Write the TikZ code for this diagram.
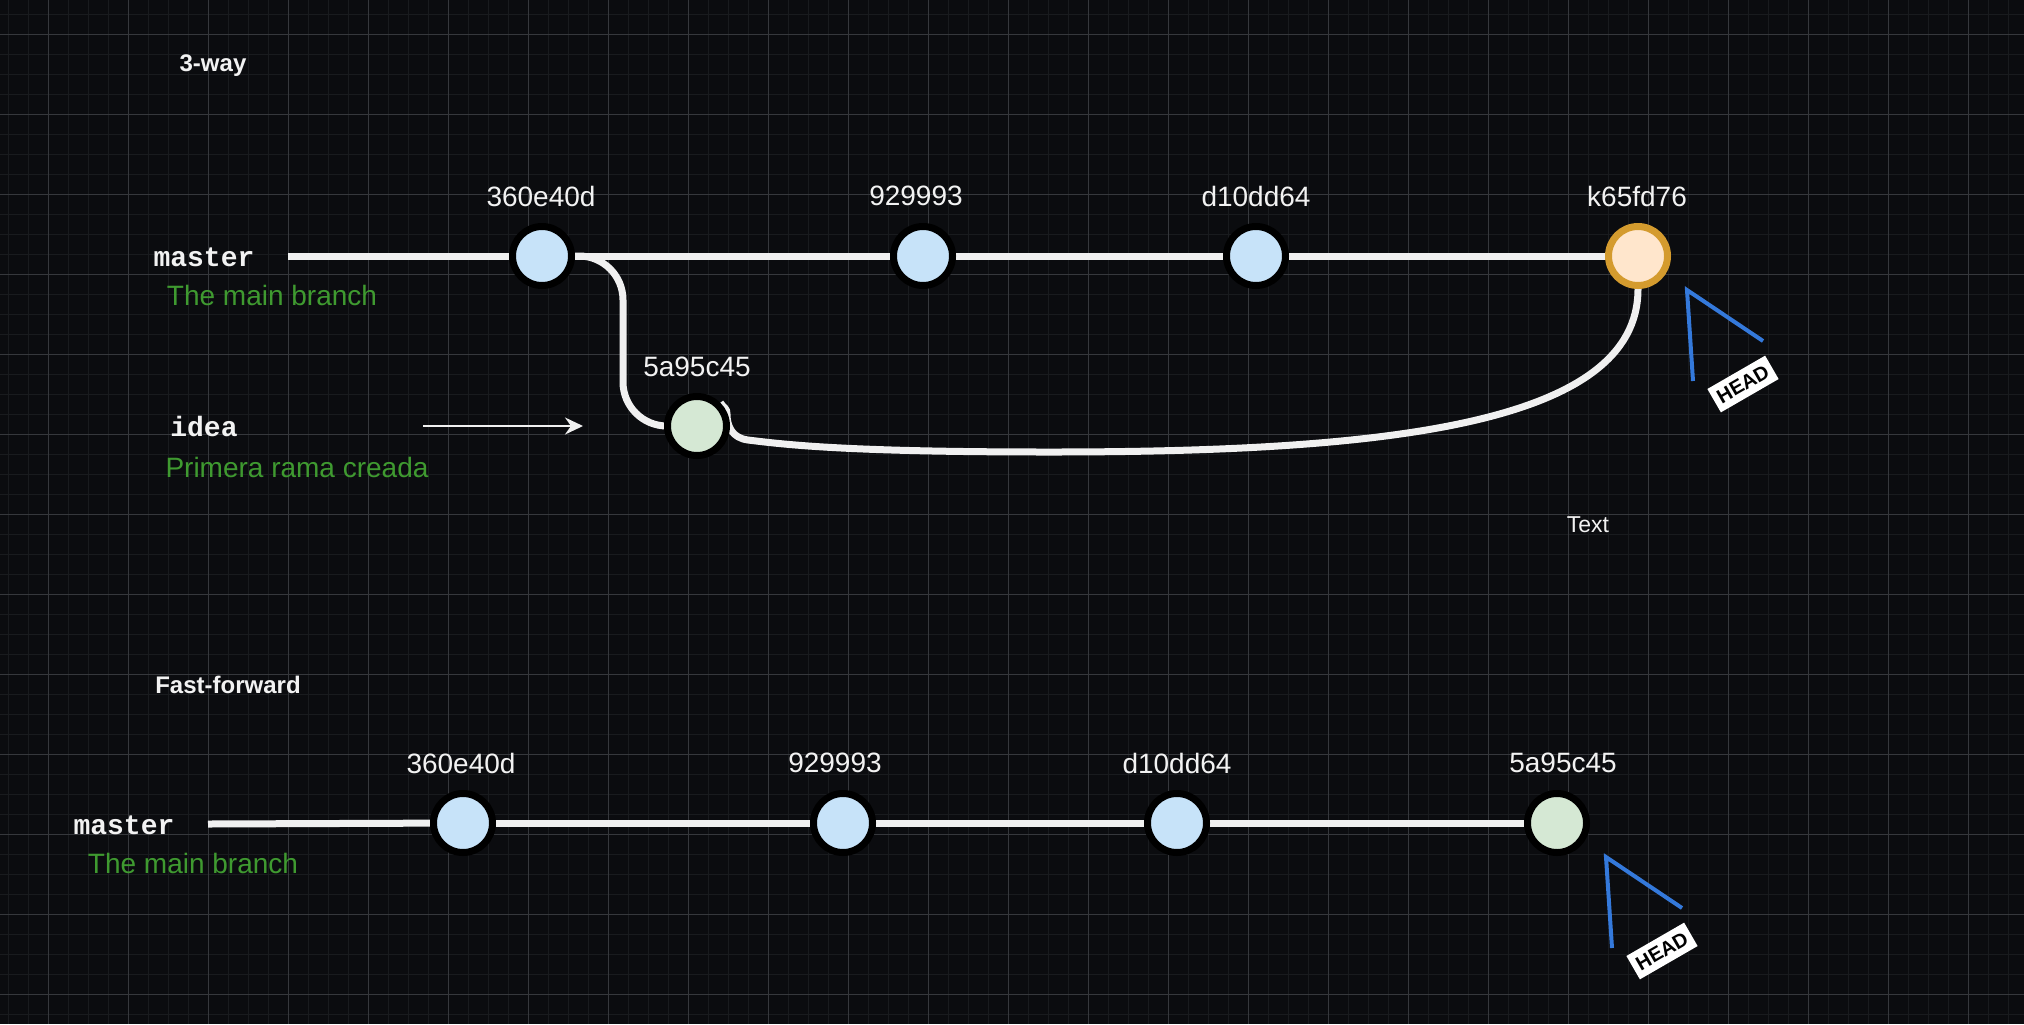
\documentclass[tikz,border=0pt]{standalone}
\usepackage{fontspec}
\setmainfont{Liberation Sans}
\newfontfamily\branchfont{Liberation Mono}
\usetikzlibrary{arrows.meta}

\definecolor{canvasbg}{HTML}{0B0C0F}
\definecolor{gridminor}{HTML}{191B1E}
\definecolor{gridmajor}{HTML}{36383C}
\definecolor{linewhite}{HTML}{F0F0F0}
\definecolor{labelwhite}{HTML}{F2F2F2}
\definecolor{commitblue}{HTML}{C7E3F9}
\definecolor{commitgreen}{HTML}{D5E8D4}
\definecolor{headfill}{HTML}{FFE6CC}
\definecolor{headring}{HTML}{D49B2E}
\definecolor{descgreen}{HTML}{3F9A30}
\definecolor{headblue}{HTML}{3479DB}

\pgfdeclarelayer{gridlayer}
\pgfdeclarelayer{edgelayer}
\pgfsetlayers{gridlayer,edgelayer,main}

\tikzset{
  commit/.style={circle, draw=black, line width=3.5pt, minimum size=29.5pt, inner sep=0pt, fill=commitblue},
  ideacommit/.style={commit, fill=commitgreen},
  headcommit/.style={commit, draw=headring, fill=headfill},
  commitlabel/.style={text=labelwhite, font=\fontsize{14}{16}\selectfont},
  branchname/.style={text=labelwhite, font=\branchfont\bfseries\fontsize{14}{16}\selectfont},
  branchdesc/.style={text=descgreen, font=\fontsize{14}{16}\selectfont},
  sectiontitle/.style={text=labelwhite, font=\bfseries\fontsize{12}{14}\selectfont},
  history/.style={draw=linewhite, line width=3.5pt},
  headline/.style={draw=headblue, line width=2pt},
  headtag/.style={fill=white, text=black, font=\bfseries\fontsize{10}{12}\selectfont, inner xsep=2.5pt, inner ysep=0pt, minimum height=13.5pt},
  minorgrid/.style={draw=gridminor, line width=0.5pt},
  majorgrid/.style={draw=gridmajor, line width=0.5pt}
}

\begin{document}
\begin{tikzpicture}[x=0.5pt, y=-0.5pt]

\useasboundingbox (0,0) rectangle (2024,1024);

% grid
\begin{pgfonlayer}{gridlayer}
\fill[canvasbg] (0,0) rectangle (2024,1024);
\foreach \gx in {8,28,...,2024} \draw[minorgrid] (\gx,0) -- (\gx,1024);
\foreach \gy in {14,34,...,1024} \draw[minorgrid] (0,\gy) -- (2024,\gy);
\foreach \gx in {48,128,...,2024} \draw[majorgrid] (\gx,0) -- (\gx,1024);
\foreach \gy in {34,114,...,1024} \draw[majorgrid] (0,\gy) -- (2024,\gy);
\end{pgfonlayer}

% 3-way
\node[sectiontitle] (threeway) at (213,66) {3-way};

\node[branchname] (tmaster) at (204,257) {master};
\node[branchdesc] (tmasterdesc) at (272,295) {The main branch};
\coordinate (tmstart) at (288,256);

\node[commit] (t1) at (542,256) {};
\node[commit] (t2) at (923,256) {};
\node[commit] (t3) at (1256,256) {};
\node[headcommit] (t4) at (1638,256) {};
\node[ideacommit] (tidea) at (697,426) {};

\node[commitlabel] (t1lab) at (541,196) {360e40d};
\node[commitlabel] (t2lab) at (916,196) {929993};
\node[commitlabel] (t3lab) at (1256,196) {d10dd64};
\node[commitlabel] (t4lab) at (1637,196) {k65fd76};
\node[commitlabel] (tidealab) at (697,367) {5a95c45};

\node[branchname] (tideaname) at (204,426) {idea};
\node[branchdesc] (tideadesc) at (297,467) {Primera rama creada};
\coordinate (ideaarrowstart) at (423,426);
\coordinate (ideaarrowend) at (583,426);
\draw[-{Stealth[length=9pt,width=8.5pt,inset=3pt]}, draw=linewhite, fill=linewhite, line width=1pt] (ideaarrowstart) -- (ideaarrowend);

\node[text=labelwhite, font=\fontsize{11.5}{13}\selectfont] (freetext) at (1588,525) {Text};

\coordinate (mergelow) at (1050,452);
\coordinate (mergehook) at (748,440);
\coordinate (hooktop) at (727,414);

\begin{pgfonlayer}{edgelayer}
\draw[history] (tmstart) -- (t1);
\draw[history] (t1) -- (t2);
\draw[history] (t2) -- (t3);
\draw[history] (t3) -- (t4);
\draw[history, rounded corners=22pt] (t1.center) -- ++(81,0) |- (tidea.center);
\draw[history] (t4.south) .. controls +(0,135) and +(340,0) .. (mergelow)
  .. controls +(-200,0) and +(40,5) .. (mergehook)
  .. controls +(-16,-2) and +(0,12) .. (hooktop)
  .. controls +(0,-6) and +(4,6) .. (tidea.north east);
\end{pgfonlayer}

\draw[headline] ([shift={(55,125)}]t4.center) -- ([shift={(49,34)}]t4.center) -- ([shift={(125,85)}]t4.center);
\node[headtag, rotate=30] (t4head) at ([shift={(105,128)}]t4.center) {HEAD};

% fast-forward
\node[sectiontitle] (fastfwd) at (228,685) {Fast-forward};

\node[branchname] (bmaster) at (124,825) {master};
\node[branchdesc] (bmasterdesc) at (193,863) {The main branch};
\coordinate (bmstart) at (208,824);

\node[commit] (b1) at (463,823) {};
\node[commit] (b2) at (843,823) {};
\node[commit] (b3) at (1177,823) {};
\node[ideacommit] (b4) at (1557,823) {};

\node[commitlabel] (b1lab) at (461,763) {360e40d};
\node[commitlabel] (b2lab) at (835,763) {929993};
\node[commitlabel] (b3lab) at (1177,763) {d10dd64};
\node[commitlabel] (b4lab) at (1563,763) {5a95c45};

\begin{pgfonlayer}{edgelayer}
\draw[history] (bmstart) -- (b1);
\draw[history] (b1) -- (b2);
\draw[history] (b2) -- (b3);
\draw[history] (b3) -- (b4);
\end{pgfonlayer}

\draw[headline] ([shift={(55,125)}]b4.center) -- ([shift={(49,34)}]b4.center) -- ([shift={(125,85)}]b4.center);
\node[headtag, rotate=30] (b4head) at ([shift={(105,128)}]b4.center) {HEAD};

\end{tikzpicture}
\end{document}
